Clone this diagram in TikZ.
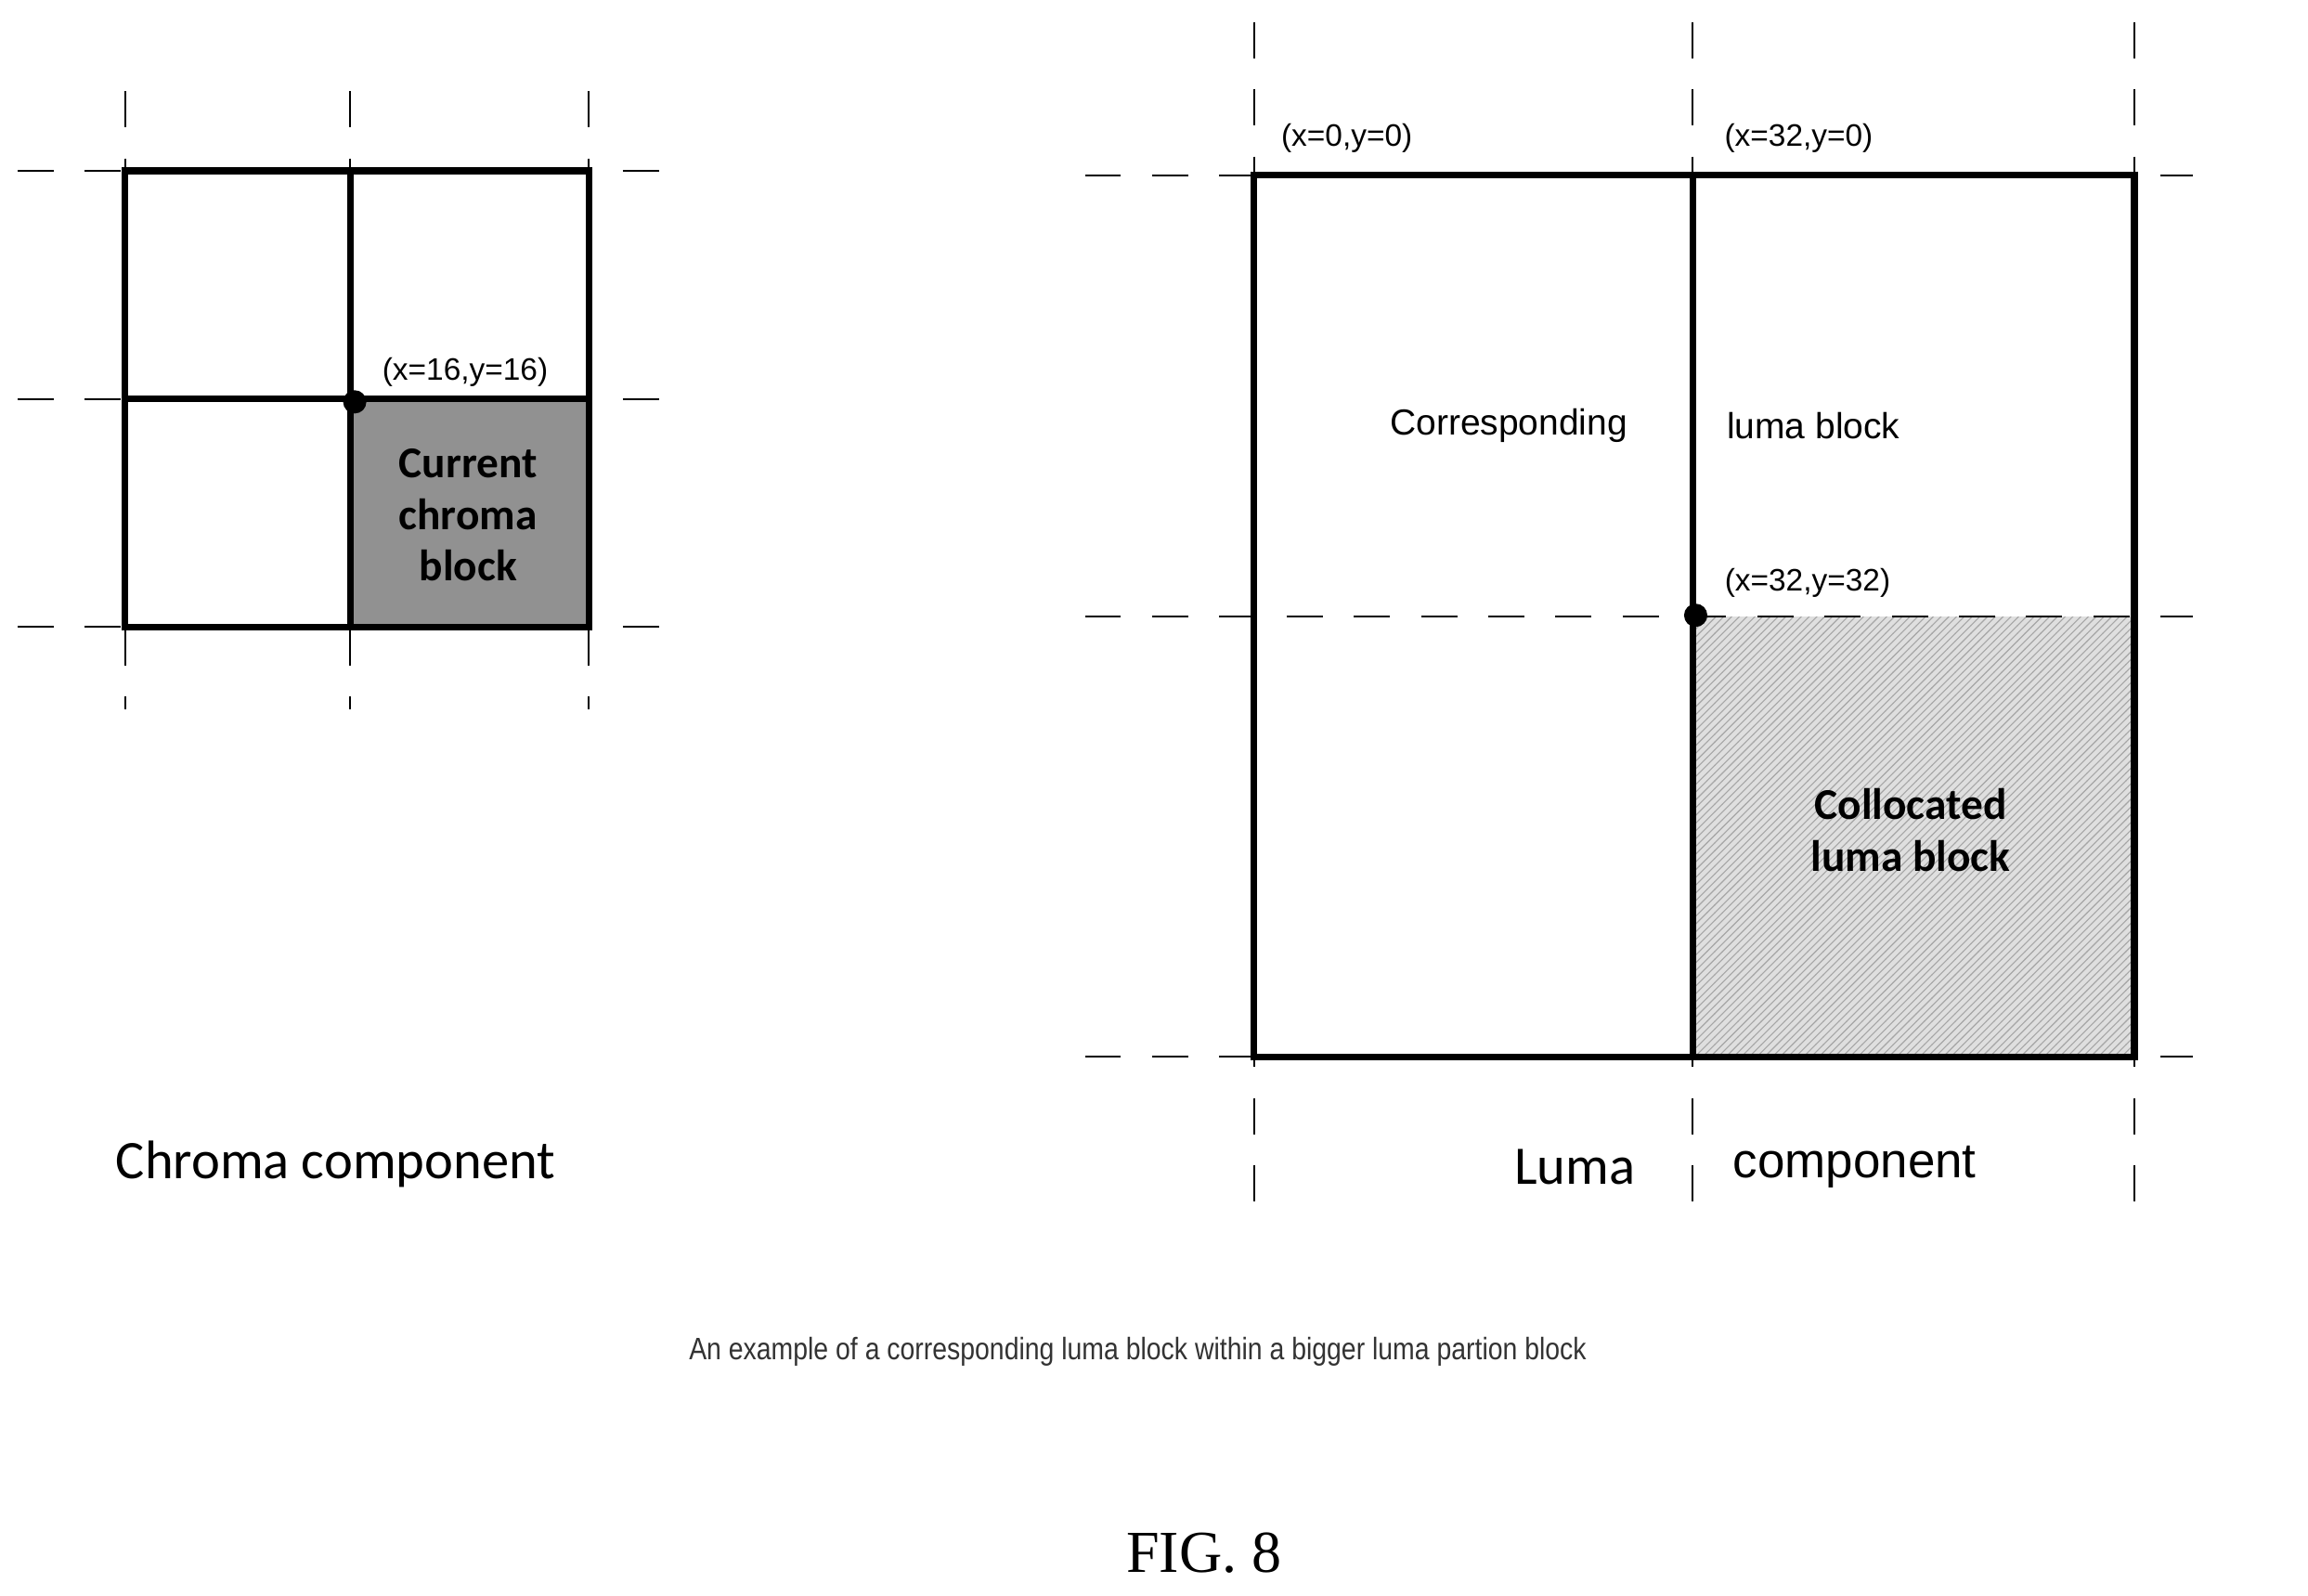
\documentclass[tikz,border=0pt]{standalone}
\usepackage{fontspec}
\setmainfont{Liberation Sans}
\newfontfamily\carfont{Carlito}
\newfontfamily\serfont{Liberation Serif}
\usetikzlibrary{patterns}
\begin{document}
\begin{tikzpicture}[x=0.02cm,y=-0.02cm,
 dsh/.style={dashed,dash pattern=on 14pt off 12pt,line width=0.7pt},
 box/.style={line width=2.6pt},
 lbl/.style={font=\fontsize{12}{14}\selectfont,inner sep=0pt},
 big/.style={font=\carfont\fontsize{21}{24}\selectfont,inner sep=0pt},
 bold/.style={font=\carfont\bfseries\fontsize{17}{20}\selectfont,align=center,inner sep=0pt}]
\useasboundingbox (0,0) rectangle (1568,1084);
% chroma
\fill[gray!85!black!75] (238,271) rectangle (400,426);
\foreach \x in {85,238,400} \draw[dsh] (\x,62) -- (\x,482);
\foreach \y in {116,271,426} \draw[dsh] (12,\y) -- (455,\y);
\draw[box] (85,116) rectangle (400,426) (238,116) -- (238,426) (85,271) -- (400,271);
\node[circle,fill,inner sep=0pt,minimum size=9pt] (d1) at (241,273) {};
\node[lbl] (l1) at (316,253) {(x=16,y=16)};
\node[bold] (cc) at (318,350) {Current\\chroma\\block};
\node[big] (chc) at (228,791) {Chroma component};
% luma
\fill[gray!25] (1150,419) rectangle (1450,718);
\fill[pattern=north east lines,pattern color=gray!70] (1150,419) rectangle (1450,718);
\foreach \x in {852,1150,1450} \draw[dsh] (\x,15) -- (\x,835);
\foreach \y in {119,419,718} \draw[dsh] (737,\y) -- (1490,\y);
\draw[box] (852,119) rectangle (1450,718) (1150,119) -- (1150,718);
\node[circle,fill,inner sep=0pt,minimum size=9pt] (d2) at (1152,418) {};
\node[lbl] (a) at (915,94) {(x=0,y=0)};
\node[lbl] (b) at (1222,94) {(x=32,y=0)};
\node[lbl] (c) at (1228,396) {(x=32,y=32)};
\node[lbl,font=\fontsize{14}{16}\selectfont] (cor) at (1025,289) {Corresponding};
\node[lbl,font=\fontsize{14}{16}\selectfont] (lb) at (1232,289) {luma block};
\node[bold] (col) at (1298,564) {Collocated\\luma block};
\node[big] (lu) at (1070,793) {Luma};
\node[lbl,font=\fontsize{19}{22}\selectfont] (co) at (1260,793) {component};
\node[lbl,font=\fontsize{12}{14}\selectfont,text=black!80,xscale=0.85] (cap) at (773,918) {An example of a corresponding luma block within a bigger luma partion block};
\node[lbl,font=\serfont\fontsize{23}{26}\selectfont] (fig) at (818,1055) {FIG. 8};
\end{tikzpicture}
\end{document}
